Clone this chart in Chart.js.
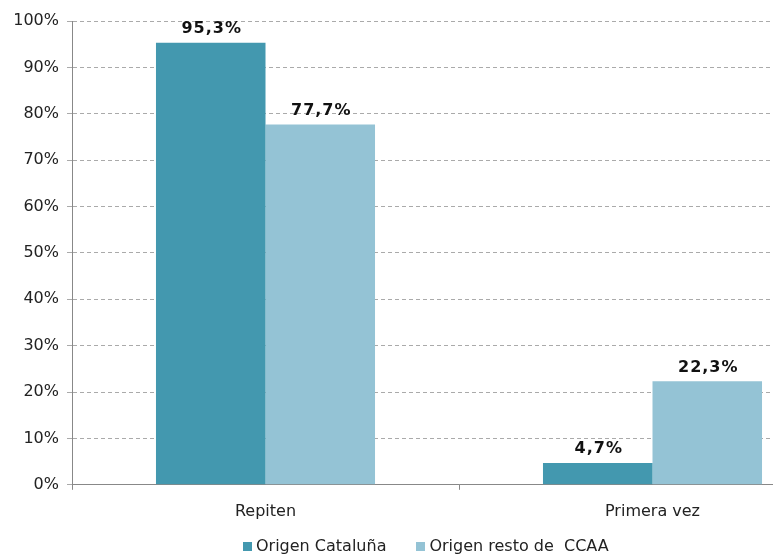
<!DOCTYPE html>
<html lang="es">
<head>
  <meta charset="UTF-8" />
  <title>Repiten / Primera vez</title>
  <style>
    html, body { margin: 0; padding: 0; background: #fff; }
    #wrap { width: 773px; height: 557px; overflow: hidden; position: relative; }
    #box { width: 860px; height: 557px; position: absolute; left: 0; top: 0; }
    #legend {
      position: absolute; left: 243px; top: 536px;
      font-family: "DejaVu Sans", Verdana, sans-serif;
      font-size: 16px; color: #222; white-space: pre; line-height: 20px;
    }
    #legend span.item { display: inline-block; margin-right: 30px; }
    #legend span.sw { display: inline-block; width: 9px; height: 9px; margin-right: 4px; }
  </style>
</head>
<body>
  <div id="wrap">
    <div id="box"><canvas id="chart"></canvas></div>
    <div id="legend"></div>
  </div>

  <script src="https://cdn.jsdelivr.net/npm/chart.js"></script>
  <script>
    const categories = ['Repiten', 'Primera vez'];
    const seriesNames = ['Origen Cataluña', 'Origen resto de  CCAA'];
    const cataluna = [95.3, 4.7];
    const restoCCAA = [77.7, 22.3];
    const yTicks = [0, 10, 20, 30, 40, 50, 60, 70, 80, 90, 100];
    const colors = ['#4398AF', '#94C3D5'];

    const fontFamily = '"DejaVu Sans", Verdana, sans-serif';

    // etiquetas de valor encima de cada barra
    const valueLabels = {
      id: 'valueLabels',
      afterDatasetsDraw(chart) {
        const ctx = chart.ctx;
        ctx.save();
        ctx.font = 'bold 16px ' + fontFamily;
        ctx.letterSpacing = '1px';
        ctx.fillStyle = '#111';
        ctx.textAlign = 'center';
        ctx.textBaseline = 'bottom';
        chart.data.datasets.forEach((ds, i) => {
          chart.getDatasetMeta(i).data.forEach((bar, j) => {
            const txt = ds.data[j].toFixed(1).replace('.', ',') + '%';
            ctx.fillText(txt, bar.x + 1, bar.y - 6);
          });
        });
        ctx.restore();
      }
    };

    new Chart(document.getElementById('chart'), {
      type: 'bar',
      data: {
        labels: categories,
        datasets: [
          { label: seriesNames[0], data: cataluna, backgroundColor: colors[0] },
          { label: seriesNames[1], data: restoCCAA, backgroundColor: colors[1] }
        ]
      },
      options: {
        responsive: true,
        maintainAspectRatio: false,
        animation: false,
        layout: { padding: { top: 21, right: 14, left: 0, bottom: 24 } },
        datasets: { bar: { categoryPercentage: 0.566, barPercentage: 1 } },
        plugins: {
          tooltip: { enabled: false },
          legend: { display: false }
        },
        scales: {
          x: {
            grid: { display: true, drawOnChartArea: false, color: '#888', tickLength: 5, offset: true },
            border: { color: '#888' },
            ticks: { color: '#222', font: { family: fontFamily, size: 16 }, padding: 12 }
          },
          y: {
            min: 0,
            max: 100,
            afterFit(scale) { scale.width = 72; },
            afterBuildTicks(scale) { scale.ticks = yTicks.map(v => ({ value: v })); },
            grid: { color: '#aaa', tickLength: 5, tickBorderDash: [] },
            border: { color: '#888', dash: [4, 3] },
            ticks: {
              color: '#222',
              font: { family: fontFamily, size: 16 },
              padding: 8,
              callback: v => v + '%'
            }
          }
        }
      },
      plugins: [valueLabels]
    });

    // leyenda en HTML
    const legend = document.getElementById('legend');
    seriesNames.forEach((name, i) => {
      const item = document.createElement('span');
      item.className = 'item';
      const sw = document.createElement('span');
      sw.className = 'sw';
      sw.style.background = colors[i];
      item.appendChild(sw);
      item.appendChild(document.createTextNode(name));
      legend.appendChild(item);
    });
  </script>
</body>
</html>
